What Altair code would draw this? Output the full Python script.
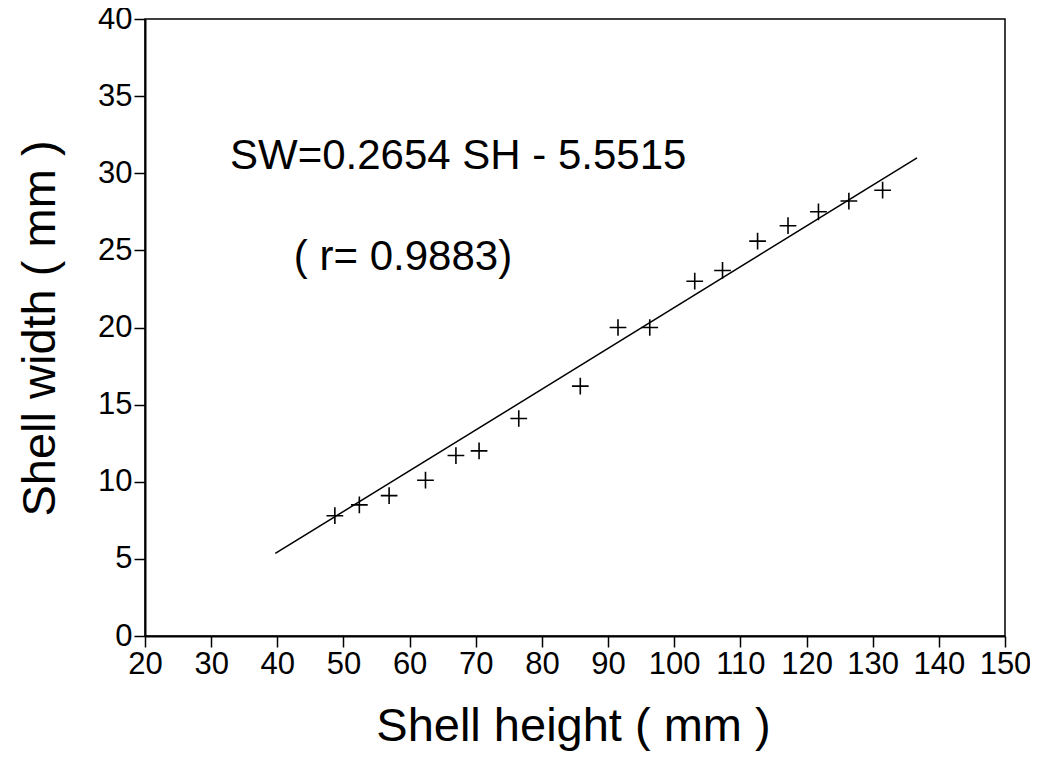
import altair as alt
import pandas as pd

# Data
shell_height = [48.7, 52.4, 56.9, 62.4, 67.0, 70.5, 76.5, 85.8, 91.5, 96.3,
                103.1, 107.3, 112.6, 117.2, 121.8, 126.4, 131.5]
shell_width = [7.8, 8.5, 9.1, 10.1, 11.7, 12.0, 14.1, 16.2, 20.0, 20.0,
               23.0, 23.7, 25.6, 26.6, 27.5, 28.2, 28.9]

fit_x = [39.7, 136.7]
fit_y = [5.35, 31.0]

label_text = ["SW=0.2654 SH - 5.5515", "( r= 0.9883)"]
label_x = [32.85, 42.5]
label_y = [30.3, 23.7]

x_ticks = list(range(20, 151, 10))
y_ticks = list(range(0, 41, 5))

pts = pd.DataFrame({"x": shell_height, "y": shell_width})
fit = pd.DataFrame({"x": fit_x, "y": fit_y})
labels = pd.DataFrame({"x": label_x, "y": label_y, "t": label_text})

FONT = "Liberation Sans"

xscale = alt.Scale(domain=[20, 150], nice=False, zero=False)
yscale = alt.Scale(domain=[0, 40], nice=False, zero=False)

common = dict(labelOverlap=False, labelFlush=False, grid=False,
              labelFont=FONT, titleFont=FONT, labelFontSize=31, titleFontSize=47,
              titleFontWeight="normal", labelColor="black", titleColor="black",
              domainColor="black", domainWidth=2, tickColor="black", tickWidth=1.5,
              tickSize=11, labelPadding=2, titleBaseline="alphabetic")

xaxis = alt.Axis(values=x_ticks, title="Shell height ( mm )",
                 titleX=428, titleY=104, **common)
yaxis = alt.Axis(values=y_ticks, title="Shell width ( mm )",
                 titleX=-91, titleY=309, **common)

X = alt.X("x:Q", scale=xscale, axis=xaxis)
Y = alt.Y("y:Q", scale=yscale, axis=yaxis)

cross = "M-1,0L1,0M0,-1L0,1"

points = alt.Chart(pts).mark_point(
    shape=cross, size=280, filled=False, color="black", strokeWidth=1.6, opacity=1
).encode(x=X, y=Y)

line = alt.Chart(fit).mark_line(color="black", strokeWidth=1.5).encode(x=X, y=Y)

text = alt.Chart(labels).mark_text(
    align="left", baseline="alphabetic", font=FONT, fontSize=42, color="black"
).encode(x=X, y=Y, text="t:N")

chart = alt.layer(points, line, text).properties(
    width=860,
    height=617,
    autosize=alt.AutoSizeParams(type="none"),
    padding={"left": 137, "top": 11, "right": 25, "bottom": 125},
    background="white",
).configure_view(
    stroke="black", strokeWidth=1.5
)

chart.save("out.html", embed_options={"renderer": "svg", "actions": False})
